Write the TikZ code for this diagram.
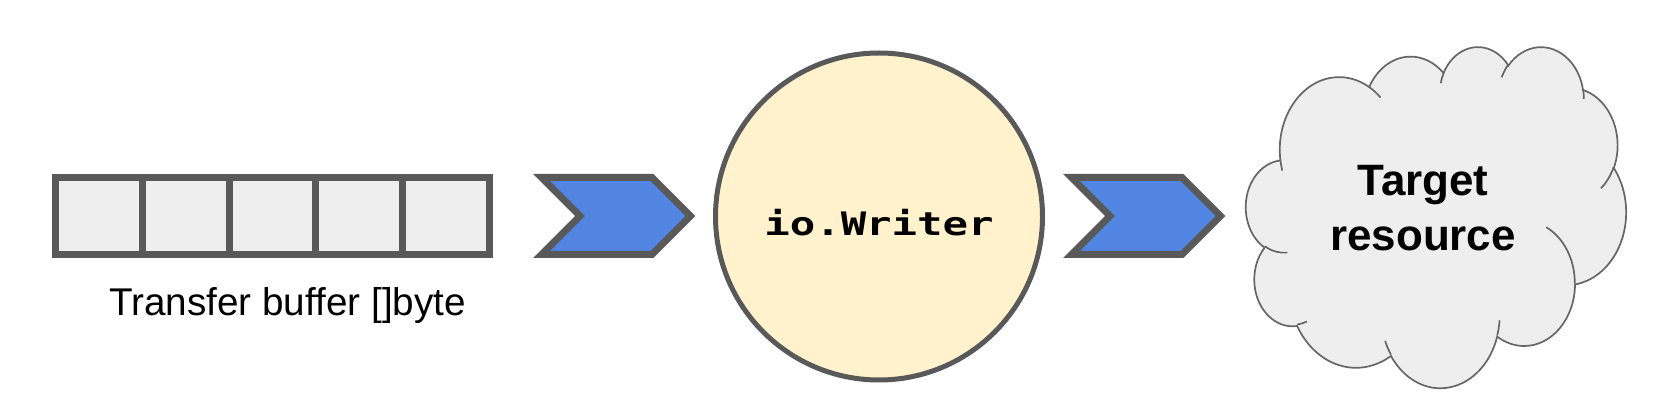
\documentclass[tikz,border=0pt]{standalone}
\usepackage{fontspec}
\setmainfont{Liberation Sans}
\newfontfamily\codefont[FakeStretch=1.31]{DejaVu Sans Mono}
\usetikzlibrary{shapes.symbols}

\definecolor{edgegray}{RGB}{89,89,89}
\definecolor{cellgray}{RGB}{238,238,238}
\definecolor{flowblue}{RGB}{82,133,226}
\definecolor{writeryellow}{RGB}{255,242,204}
\definecolor{cloudline}{RGB}{102,102,102}

% cloud arc: x radius, y radius, start angle, sweep (angles seen from the centre)
\newcommand{\cloudarc}[4]{arc[x radius=#1, y radius=#2,
  start angle={atan2(#1*sin(#3),#2*cos(#3))},
  delta angle={mod(atan2(#1*sin(#3+#4),#2*cos(#3+#4))-atan2(#1*sin(#3),#2*cos(#3))+720,360)}]}

\tikzset{
  cell/.style={draw=edgegray, fill=cellgray, line width=0.7mm,
    minimum width=8.68mm, minimum height=7.7mm, inner sep=0pt, outer sep=0pt},
  chevron/.style={signal, signal from=west, signal to=east, signal pointer angle=90,
    draw=edgegray, fill=flowblue, line width=0.7mm,
    minimum width=14.9mm, minimum height=7.7mm, inner sep=0pt, outer sep=0pt},
  writer/.style={circle, draw=edgegray, fill=writeryellow, line width=0.5mm,
    minimum size=32.7mm, inner sep=0pt, text height=3.9mm, text depth=0pt},
  cloudedge/.style={draw=cloudline, line width=0.17mm}
}

\begin{document}
\begin{tikzpicture}[x=0.1mm, y=-0.1mm]

    \useasboundingbox (0,0) rectangle (1664,410);

    % the transfer buffer
    \node[cell] (cell1) at (98.9,216) {};
    \node[cell] (cell2) at (185.7,216) {};
    \node[cell] (cell3) at (272.5,216) {};
    \node[cell] (cell4) at (359.3,216) {};
    \node[cell] (cell5) at (446.1,216) {};
    \node[font=\fontsize{11}{13}\selectfont, anchor=base] (buflabel) at (287.5,316) {Transfer buffer []byte};

    \node[chevron, anchor=east] (toWriter) at (690.5,216) {};

    \node[writer, font=\codefont\bfseries\fontsize{9.2}{11}\selectfont] (writer) at (879,216.5) {io.Writer};

    \node[chevron, anchor=east] (toTarget) at (1220.5,216) {};

    % the cloud
    \begin{scope}[shift={(1246,46)}, xscale=0.8796, yscale=0.7894]
        \draw[cloudedge, fill=cellgray] (39.00,143.70)
            \cloudarc{67.53}{91.90}{-190.4875}{123.7805}
            \cloudarc{53.33}{72.67}{-144.1024}{89.9452}
            \cloudarc{43.65}{59.45}{-145.8079}{99.7230}
            \cloudarc{48.57}{65.95}{-130.9861}{117.2417}
            \cloudarc{53.33}{72.73}{-78.7089}{109.0269}
            \cloudarc{67.75}{92.20}{-46.2673}{130.2690}
            \cloudarc{57.85}{78.67}{0.6250}{114.0333}
            \cloudarc{67.52}{92.15}{22.4516}{115.1726}
            \cloudarc{77.20}{105.43}{66.2426}{75.7110}
            \cloudarc{43.60}{59.18}{-274.9421}{146.7356}
            \cloudarc{43.45}{59.45}{-246.8285}{152.5189} -- cycle;
        \draw[cloudedge]
            (46.93,261.77) \cloudarc{43.45}{59.45}{86.7420}{26.4295}
            (69.28,348.99) \cloudarc{43.60}{59.18}{73.6105}{11.4475}
            (164.78,390.90) \cloudarc{67.52}{92.15}{137.6242}{14.0811}
            (288.27,347.51) \cloudarc{67.52}{92.15}{6.4533}{15.9984}
            (341.29,229.54) \cloudarc{57.85}{78.67}{-70.2924}{70.9174}
            (417.98,153.54) \cloudarc{53.33}{72.73}{30.3180}{27.7515}
            (383.24,54.26) \cloudarc{48.57}{65.95}{-13.7443}{14.8589}
            (290.78,39.52) \cloudarc{48.57}{65.95}{-149.1815}{18.1954}
            (221.41,47.20) \cloudarc{43.65}{59.45}{-163.4943}{17.6864}
            (140.00,51.92) \cloudarc{67.53}{91.90}{-66.7070}{12.3194}
            (41.27,157.89) \cloudarc{67.53}{91.90}{157.6544}{11.8582};
    \end{scope}
    \node[align=center, font=\bfseries\fontsize{12.5}{15.65}\selectfont] (target) at (1423,208.5) {Target\\resource};

\end{tikzpicture}
\end{document}
